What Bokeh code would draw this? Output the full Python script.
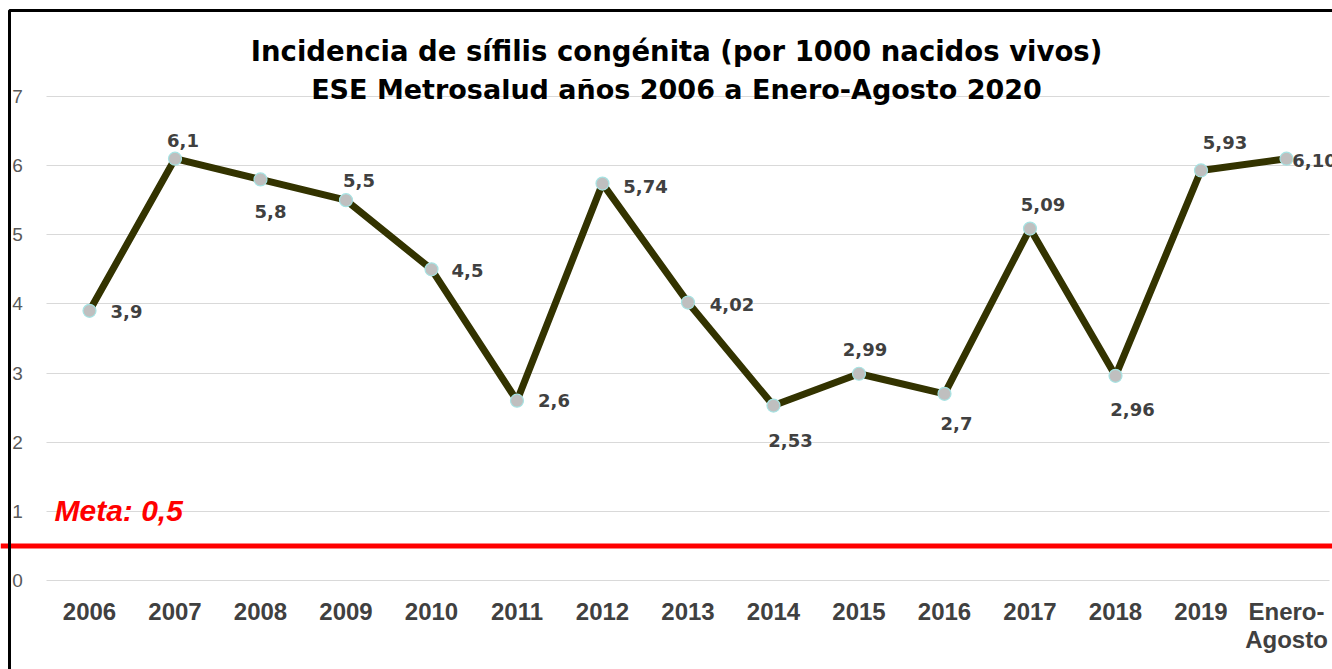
from bokeh.plotting import figure
from bokeh.models import Range1d, FixedTicker, ColumnDataSource, Label, BoxAnnotation
from bokeh.core.properties import value
from bokeh.embed import file_html
from bokeh.resources import INLINE

# ---------------- data ----------------
categories = ["2006", "2007", "2008", "2009", "2010", "2011", "2012", "2013",
              "2014", "2015", "2016", "2017", "2018", "2019", "Enero-\nAgosto"]
values = [3.9, 6.1, 5.8, 5.5, 4.5, 2.6, 5.74, 4.02, 2.53, 2.99, 2.7, 5.09, 2.96, 5.93, 6.10]
value_labels = ["3,9", "6,1", "5,8", "5,5", "4,5", "2,6", "5,74", "4,02",
                "2,53", "2,99", "2,7", "5,09", "2,96", "5,93", "6,10"]
y_ticks = [0, 1, 2, 3, 4, 5, 6, 7]
META = 0.5
meta_label = "Meta: 0,5"
title_lines = ["Incidencia de sífilis congénita (por 1000 nacidos vivos)",
               "ESE Metrosalud años 2006 a Enero-Agosto 2020"]

# label placement (pixel offsets from each point, style only)
label_dx = [37, 8, 10, 13, 36, 37, 43, 44, 17, 6, 12, 13, 17, 24, 28]
label_dy = [1, -18, 32, -20, 1, 0, 3, 2, 35, -24, 30, -24, 34, -28, 2]

# category positions on a numeric axis (one slot per category)
xpos = list(range(len(categories)))

# ---------------- figure ----------------
W, H = 1332, 669
p = figure(width=W, height=H, output_backend="svg", toolbar_location=None,
           x_range=Range1d(-1.0409, len(categories) - 1 + 0.538),
           y_range=Range1d(-1.287, 8.388),
           min_border_left=0, min_border_right=0, min_border_top=0, min_border_bottom=0,
           tools="")
p.outline_line_color = None
p.background_fill_color = "white"
p.border_fill_color = "white"

# y axis drawn inside the frame, at the left edge of the first category slot
p.yaxis.fixed_location = -0.5
p.yaxis.ticker = FixedTicker(ticks=y_ticks)
p.yaxis.axis_line_color = None
p.yaxis.major_tick_line_color = None
p.yaxis.minor_tick_line_color = None
p.yaxis.major_tick_out = 0
p.yaxis.major_tick_in = 0
p.yaxis.major_label_standoff = 24
p.yaxis.major_label_text_font = "Liberation Sans"
p.yaxis.major_label_text_font_size = "19px"
p.yaxis.major_label_text_color = "#595959"

# x axis drawn inside the frame, along y = 0
p.xaxis.fixed_location = 0
p.xaxis.ticker = FixedTicker(ticks=xpos)
p.xaxis.major_label_overrides = {i: c for i, c in zip(xpos, categories)}
p.xaxis.axis_line_color = None
p.xaxis.major_tick_line_color = None
p.xaxis.minor_tick_line_color = None
p.xaxis.major_tick_out = 0
p.xaxis.major_tick_in = 0
p.xaxis.major_label_standoff = 17
p.xaxis.major_label_text_font = "Liberation Sans"
p.xaxis.major_label_text_font_size = "24px"
p.xaxis.major_label_text_font_style = "bold"
p.xaxis.major_label_text_color = "#404040"
p.xaxis.major_label_text_line_height = 1.07

p.xgrid.grid_line_color = None
yg = p.ygrid[0]
yg.ticker = FixedTicker(ticks=y_ticks)
yg.grid_line_color = "#D9D9D9"
yg.grid_line_width = 1
if "cross_bounds" in yg.properties():
    yg.cross_bounds = (-0.5, len(categories) - 1 + 0.5)

# goal line (red), across the whole chart width
goal = BoxAnnotation(left=0, left_units="canvas", right=W + 10, right_units="canvas",
                     top=META, bottom=META, fill_alpha=0, line_alpha=1.0,
                     line_color="#FF0000", line_width=5, level="overlay")
p.add_layout(goal)

# chart border (left and top visible; right/bottom lie outside the page)
border = BoxAnnotation(left=9, left_units="canvas", top=10, top_units="canvas",
                       right=W + 20, right_units="canvas", bottom=H + 20, bottom_units="canvas",
                       fill_alpha=0, line_alpha=1.0, line_color="black", line_width=3,
                       level="overlay")
p.add_layout(border)

src = ColumnDataSource(dict(x=xpos, y=values, lab=value_labels,
                            dx=label_dx, dy=label_dy))

p.line("x", "y", source=src, line_color="#333300", line_width=7, line_join="round")
p.scatter("x", "y", source=src, size=13, fill_color="#BFBFBF",
          line_color="#A6E3E3", line_width=1.2)
p.text("x", "y", text="lab", source=src, x_offset="dx", y_offset="dy",
       text_align="center", text_baseline="middle",
       text_font=value("DejaVu Sans"), text_font_style="bold",
       text_font_size="18px", text_color="#404040")

# title (drawn over the plot area, as in the original)
for line_text, ybase, fs in zip(title_lines, [7.651, 7.10], ["27.5px", "27px"]):
    p.add_layout(Label(x=676, x_units="screen", y=ybase, y_units="data",
                       text=line_text, text_align="center", text_baseline="alphabetic",
                       text_font="DejaVu Sans", text_font_style="bold",
                       text_font_size=fs, text_color="black"))

# goal label
p.add_layout(Label(x=54, x_units="screen", y=1.01, y_units="data",
                   text=meta_label, text_align="left", text_baseline="alphabetic",
                   text_font="Liberation Sans", text_font_style="bold italic",
                   text_font_size="30px", text_color="#FF0000"))

open("out.html", "w").write(file_html(p, INLINE))
